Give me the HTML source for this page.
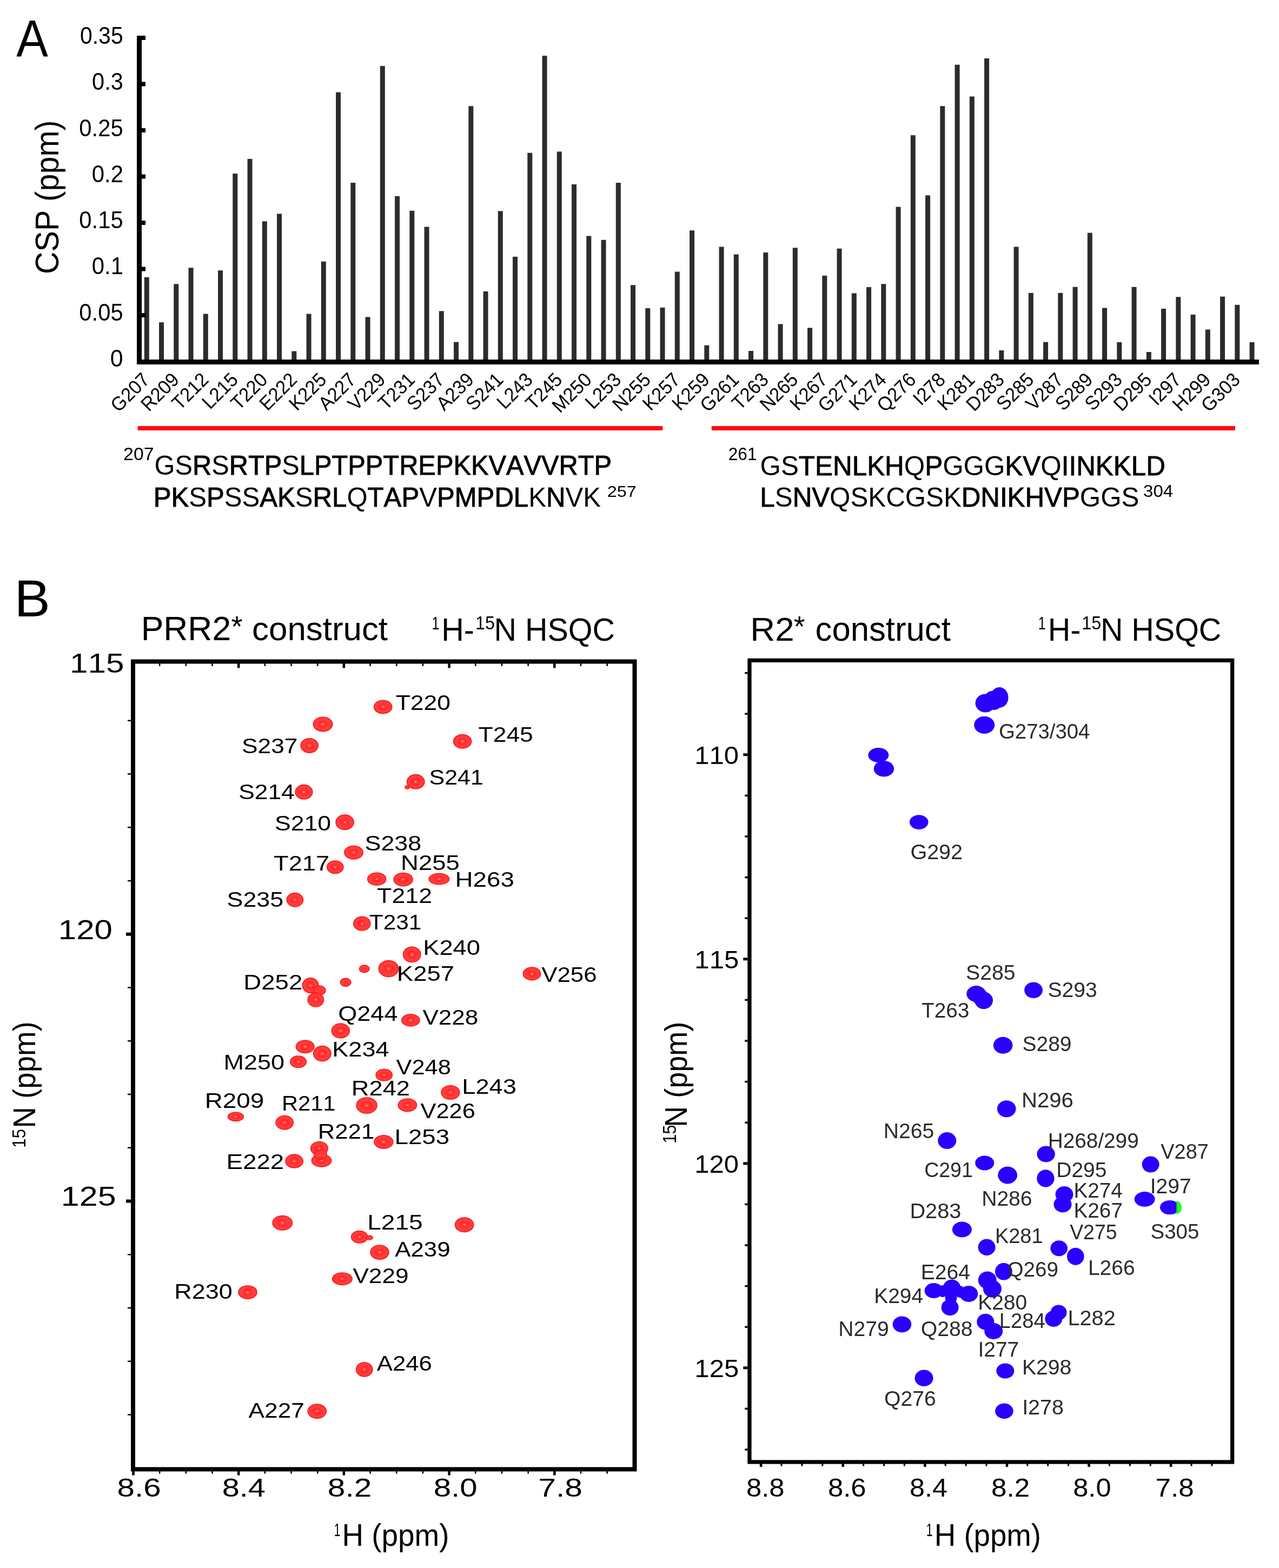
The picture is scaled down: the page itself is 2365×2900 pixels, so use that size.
<!DOCTYPE html>
<html><head><meta charset="utf-8"><title>Figure</title>
<style>
html,body{margin:0;padding:0;background:#fff;}
svg{display:block;}
svg text{font-family:"Liberation Sans",Arial,Helvetica,sans-serif;font-kerning:none;}
</style></head><body>
<svg width="2365" height="2900" viewBox="0 0 2365 2900">
<rect x="0" y="0" width="2365" height="2900" fill="#fff"/>
<text transform="translate(30.23,104.00) scale(0.9083,1)" font-size="96.80" fill="#000">A</text>
<rect x="266.80" y="512.70" width="9.00" height="153.30" fill="#2e2b2b"/>
<rect x="294.05" y="596.20" width="9.00" height="69.80" fill="#2e2b2b"/>
<rect x="321.30" y="525.20" width="9.00" height="140.80" fill="#2e2b2b"/>
<rect x="348.55" y="495.20" width="9.00" height="170.80" fill="#2e2b2b"/>
<rect x="375.80" y="580.50" width="9.00" height="85.50" fill="#2e2b2b"/>
<rect x="403.05" y="500.20" width="9.00" height="165.80" fill="#2e2b2b"/>
<rect x="430.30" y="321.10" width="9.00" height="344.90" fill="#2e2b2b"/>
<rect x="457.55" y="293.80" width="9.00" height="372.20" fill="#2e2b2b"/>
<rect x="484.80" y="409.30" width="9.00" height="256.70" fill="#2e2b2b"/>
<rect x="512.05" y="395.40" width="9.00" height="270.60" fill="#2e2b2b"/>
<rect x="539.30" y="649.50" width="9.00" height="16.50" fill="#2e2b2b"/>
<rect x="566.55" y="580.50" width="9.00" height="85.50" fill="#2e2b2b"/>
<rect x="593.80" y="483.60" width="9.00" height="182.40" fill="#2e2b2b"/>
<rect x="621.05" y="170.60" width="9.00" height="495.40" fill="#2e2b2b"/>
<rect x="648.30" y="338.00" width="9.00" height="328.00" fill="#2e2b2b"/>
<rect x="675.55" y="586.30" width="9.00" height="79.70" fill="#2e2b2b"/>
<rect x="702.80" y="122.00" width="9.00" height="544.00" fill="#2e2b2b"/>
<rect x="730.05" y="362.80" width="9.00" height="303.20" fill="#2e2b2b"/>
<rect x="757.30" y="389.80" width="9.00" height="276.20" fill="#2e2b2b"/>
<rect x="784.55" y="419.50" width="9.00" height="246.50" fill="#2e2b2b"/>
<rect x="811.80" y="575.30" width="9.00" height="90.70" fill="#2e2b2b"/>
<rect x="839.05" y="632.60" width="9.00" height="33.40" fill="#2e2b2b"/>
<rect x="866.30" y="196.20" width="9.00" height="469.80" fill="#2e2b2b"/>
<rect x="893.55" y="538.90" width="9.00" height="127.10" fill="#2e2b2b"/>
<rect x="920.80" y="390.40" width="9.00" height="275.60" fill="#2e2b2b"/>
<rect x="948.05" y="474.80" width="9.00" height="191.20" fill="#2e2b2b"/>
<rect x="975.30" y="282.70" width="9.00" height="383.30" fill="#2e2b2b"/>
<rect x="1002.55" y="103.10" width="9.00" height="562.90" fill="#2e2b2b"/>
<rect x="1029.80" y="280.40" width="9.00" height="385.60" fill="#2e2b2b"/>
<rect x="1057.05" y="340.90" width="9.00" height="325.10" fill="#2e2b2b"/>
<rect x="1084.30" y="436.40" width="9.00" height="229.60" fill="#2e2b2b"/>
<rect x="1111.55" y="443.70" width="9.00" height="222.30" fill="#2e2b2b"/>
<rect x="1138.80" y="338.00" width="9.00" height="328.00" fill="#2e2b2b"/>
<rect x="1166.05" y="527.20" width="9.00" height="138.80" fill="#2e2b2b"/>
<rect x="1193.30" y="570.00" width="9.00" height="96.00" fill="#2e2b2b"/>
<rect x="1220.55" y="568.90" width="9.00" height="97.10" fill="#2e2b2b"/>
<rect x="1247.80" y="502.50" width="9.00" height="163.50" fill="#2e2b2b"/>
<rect x="1275.05" y="426.20" width="9.00" height="239.80" fill="#2e2b2b"/>
<rect x="1302.30" y="638.70" width="9.00" height="27.30" fill="#2e2b2b"/>
<rect x="1329.55" y="456.50" width="9.00" height="209.50" fill="#2e2b2b"/>
<rect x="1356.80" y="470.50" width="9.00" height="195.50" fill="#2e2b2b"/>
<rect x="1384.05" y="649.00" width="9.00" height="17.00" fill="#2e2b2b"/>
<rect x="1411.30" y="467.00" width="9.00" height="199.00" fill="#2e2b2b"/>
<rect x="1438.55" y="599.40" width="9.00" height="66.60" fill="#2e2b2b"/>
<rect x="1465.80" y="458.30" width="9.00" height="207.70" fill="#2e2b2b"/>
<rect x="1493.05" y="606.40" width="9.00" height="59.60" fill="#2e2b2b"/>
<rect x="1520.30" y="509.80" width="9.00" height="156.20" fill="#2e2b2b"/>
<rect x="1547.55" y="459.70" width="9.00" height="206.30" fill="#2e2b2b"/>
<rect x="1574.80" y="542.40" width="9.00" height="123.60" fill="#2e2b2b"/>
<rect x="1602.05" y="531.00" width="9.00" height="135.00" fill="#2e2b2b"/>
<rect x="1629.30" y="525.20" width="9.00" height="140.80" fill="#2e2b2b"/>
<rect x="1656.55" y="382.60" width="9.00" height="283.40" fill="#2e2b2b"/>
<rect x="1683.80" y="250.10" width="9.00" height="415.90" fill="#2e2b2b"/>
<rect x="1711.05" y="361.30" width="9.00" height="304.70" fill="#2e2b2b"/>
<rect x="1738.30" y="196.20" width="9.00" height="469.80" fill="#2e2b2b"/>
<rect x="1765.55" y="119.70" width="9.00" height="546.30" fill="#2e2b2b"/>
<rect x="1792.80" y="178.50" width="9.00" height="487.50" fill="#2e2b2b"/>
<rect x="1820.05" y="108.00" width="9.00" height="558.00" fill="#2e2b2b"/>
<rect x="1847.30" y="648.00" width="9.00" height="18.00" fill="#2e2b2b"/>
<rect x="1874.55" y="456.50" width="9.00" height="209.50" fill="#2e2b2b"/>
<rect x="1901.80" y="541.80" width="9.00" height="124.20" fill="#2e2b2b"/>
<rect x="1929.05" y="632.60" width="9.00" height="33.40" fill="#2e2b2b"/>
<rect x="1956.30" y="541.80" width="9.00" height="124.20" fill="#2e2b2b"/>
<rect x="1983.55" y="530.70" width="9.00" height="135.30" fill="#2e2b2b"/>
<rect x="2010.80" y="430.60" width="9.00" height="235.40" fill="#2e2b2b"/>
<rect x="2038.05" y="569.50" width="9.00" height="96.50" fill="#2e2b2b"/>
<rect x="2065.30" y="632.90" width="9.00" height="33.10" fill="#2e2b2b"/>
<rect x="2092.55" y="530.70" width="9.00" height="135.30" fill="#2e2b2b"/>
<rect x="2119.80" y="651.00" width="9.00" height="15.00" fill="#2e2b2b"/>
<rect x="2147.05" y="570.90" width="9.00" height="95.10" fill="#2e2b2b"/>
<rect x="2174.30" y="549.20" width="9.00" height="116.80" fill="#2e2b2b"/>
<rect x="2201.55" y="581.80" width="9.00" height="84.20" fill="#2e2b2b"/>
<rect x="2228.80" y="609.50" width="9.00" height="56.50" fill="#2e2b2b"/>
<rect x="2256.05" y="548.60" width="9.00" height="117.40" fill="#2e2b2b"/>
<rect x="2283.30" y="563.80" width="9.00" height="102.20" fill="#2e2b2b"/>
<rect x="2310.55" y="632.90" width="9.00" height="33.10" fill="#2e2b2b"/>
<rect x="253.00" y="66.00" width="9.00" height="608.00" fill="#000"/>
<rect x="253.00" y="665.00" width="2075.00" height="9.00" fill="#000"/>
<rect x="253.00" y="66.00" width="16.00" height="8.00" fill="#000"/>
<rect x="253.00" y="151.50" width="16.00" height="8.00" fill="#000"/>
<rect x="253.00" y="237.00" width="16.00" height="8.00" fill="#000"/>
<rect x="253.00" y="322.50" width="16.00" height="8.00" fill="#000"/>
<rect x="253.00" y="408.00" width="16.00" height="8.00" fill="#000"/>
<rect x="253.00" y="493.50" width="16.00" height="8.00" fill="#000"/>
<rect x="253.00" y="579.00" width="16.00" height="8.00" fill="#000"/>
<text transform="translate(147.90,81.00) scale(0.9428,1)" font-size="43.50" fill="#000">0.35</text>
<text transform="translate(170.08,166.27) scale(0.9550,1)" font-size="43.50" fill="#000">0.3</text>
<text transform="translate(146.37,251.54) scale(0.9613,1)" font-size="43.50" fill="#000">0.25</text>
<text transform="translate(169.76,336.81) scale(0.9649,1)" font-size="43.50" fill="#000">0.2</text>
<text transform="translate(146.37,422.08) scale(0.9613,1)" font-size="43.50" fill="#000">0.15</text>
<text transform="translate(169.76,507.35) scale(0.9639,1)" font-size="43.50" fill="#000">0.1</text>
<text transform="translate(146.37,592.62) scale(0.9613,1)" font-size="43.50" fill="#000">0.05</text>
<text transform="translate(203.82,677.89) scale(0.9859,1)" font-size="43.50" fill="#000">0</text>
<text transform="translate(108.00,507.02) rotate(-90) scale(0.9441,1)" font-size="61.00" fill="#000">CSP (ppm)</text>
<text transform="translate(278.80,704.50) rotate(-45) scale(0.955,1)" font-size="36" text-anchor="end">G207</text>
<text transform="translate(333.30,704.50) rotate(-45) scale(0.955,1)" font-size="36" text-anchor="end">R209</text>
<text transform="translate(387.80,704.50) rotate(-45) scale(0.955,1)" font-size="36" text-anchor="end">T212</text>
<text transform="translate(442.30,704.50) rotate(-45) scale(0.955,1)" font-size="36" text-anchor="end">L215</text>
<text transform="translate(496.80,704.50) rotate(-45) scale(0.955,1)" font-size="36" text-anchor="end">T220</text>
<text transform="translate(551.30,704.50) rotate(-45) scale(0.955,1)" font-size="36" text-anchor="end">E222</text>
<text transform="translate(605.80,704.50) rotate(-45) scale(0.955,1)" font-size="36" text-anchor="end">K225</text>
<text transform="translate(660.30,704.50) rotate(-45) scale(0.955,1)" font-size="36" text-anchor="end">A227</text>
<text transform="translate(714.80,704.50) rotate(-45) scale(0.955,1)" font-size="36" text-anchor="end">V229</text>
<text transform="translate(769.30,704.50) rotate(-45) scale(0.955,1)" font-size="36" text-anchor="end">T231</text>
<text transform="translate(823.80,704.50) rotate(-45) scale(0.955,1)" font-size="36" text-anchor="end">S237</text>
<text transform="translate(878.30,704.50) rotate(-45) scale(0.955,1)" font-size="36" text-anchor="end">A239</text>
<text transform="translate(932.80,704.50) rotate(-45) scale(0.955,1)" font-size="36" text-anchor="end">S241</text>
<text transform="translate(987.30,704.50) rotate(-45) scale(0.955,1)" font-size="36" text-anchor="end">L243</text>
<text transform="translate(1041.80,704.50) rotate(-45) scale(0.955,1)" font-size="36" text-anchor="end">T245</text>
<text transform="translate(1096.30,704.50) rotate(-45) scale(0.955,1)" font-size="36" text-anchor="end">M250</text>
<text transform="translate(1150.80,704.50) rotate(-45) scale(0.955,1)" font-size="36" text-anchor="end">L253</text>
<text transform="translate(1205.30,704.50) rotate(-45) scale(0.955,1)" font-size="36" text-anchor="end">N255</text>
<text transform="translate(1259.80,704.50) rotate(-45) scale(0.955,1)" font-size="36" text-anchor="end">K257</text>
<text transform="translate(1314.30,704.50) rotate(-45) scale(0.955,1)" font-size="36" text-anchor="end">K259</text>
<text transform="translate(1368.80,704.50) rotate(-45) scale(0.955,1)" font-size="36" text-anchor="end">G261</text>
<text transform="translate(1423.30,704.50) rotate(-45) scale(0.955,1)" font-size="36" text-anchor="end">T263</text>
<text transform="translate(1477.80,704.50) rotate(-45) scale(0.955,1)" font-size="36" text-anchor="end">N265</text>
<text transform="translate(1532.30,704.50) rotate(-45) scale(0.955,1)" font-size="36" text-anchor="end">K267</text>
<text transform="translate(1586.80,704.50) rotate(-45) scale(0.955,1)" font-size="36" text-anchor="end">G271</text>
<text transform="translate(1641.30,704.50) rotate(-45) scale(0.955,1)" font-size="36" text-anchor="end">K274</text>
<text transform="translate(1695.80,704.50) rotate(-45) scale(0.955,1)" font-size="36" text-anchor="end">Q276</text>
<text transform="translate(1750.30,704.50) rotate(-45) scale(0.955,1)" font-size="36" text-anchor="end">I278</text>
<text transform="translate(1804.80,704.50) rotate(-45) scale(0.955,1)" font-size="36" text-anchor="end">K281</text>
<text transform="translate(1859.30,704.50) rotate(-45) scale(0.955,1)" font-size="36" text-anchor="end">D283</text>
<text transform="translate(1913.80,704.50) rotate(-45) scale(0.955,1)" font-size="36" text-anchor="end">S285</text>
<text transform="translate(1968.30,704.50) rotate(-45) scale(0.955,1)" font-size="36" text-anchor="end">V287</text>
<text transform="translate(2022.80,704.50) rotate(-45) scale(0.955,1)" font-size="36" text-anchor="end">S289</text>
<text transform="translate(2077.30,704.50) rotate(-45) scale(0.955,1)" font-size="36" text-anchor="end">S293</text>
<text transform="translate(2131.80,704.50) rotate(-45) scale(0.955,1)" font-size="36" text-anchor="end">D295</text>
<text transform="translate(2186.30,704.50) rotate(-45) scale(0.955,1)" font-size="36" text-anchor="end">I297</text>
<text transform="translate(2240.80,704.50) rotate(-45) scale(0.955,1)" font-size="36" text-anchor="end">H299</text>
<text transform="translate(2295.30,704.50) rotate(-45) scale(0.955,1)" font-size="36" text-anchor="end">G303</text>
<rect x="254.60" y="788.00" width="970.80" height="8.00" fill="#ff0a0a"/>
<rect x="1315.80" y="788.00" width="968.20" height="8.00" fill="#ff0a0a"/>
<text transform="translate(228.10,850.60) scale(1.0001,1)" font-size="33.80" fill="#000">207</text>
<text transform="translate(285.55,878.30) scale(0.9755,1)" font-size="50.00">GS<tspan stroke="#000" stroke-width="0.9">R</tspan>S<tspan stroke="#000" stroke-width="0.9">R</tspan><tspan stroke="#000" stroke-width="0.9">T</tspan><tspan stroke="#000" stroke-width="0.9">P</tspan>S<tspan stroke="#000" stroke-width="0.9">L</tspan><tspan stroke="#000" stroke-width="0.9">P</tspan><tspan stroke="#000" stroke-width="0.9">T</tspan><tspan stroke="#000" stroke-width="0.9">P</tspan><tspan stroke="#000" stroke-width="0.9">P</tspan><tspan stroke="#000" stroke-width="0.9">T</tspan><tspan stroke="#000" stroke-width="0.9">R</tspan><tspan stroke="#000" stroke-width="0.9">E</tspan><tspan stroke="#000" stroke-width="0.9">P</tspan><tspan stroke="#000" stroke-width="0.9">K</tspan><tspan stroke="#000" stroke-width="0.9">K</tspan><tspan stroke="#000" stroke-width="0.9">V</tspan><tspan stroke="#000" stroke-width="0.9">A</tspan><tspan stroke="#000" stroke-width="0.9">V</tspan><tspan stroke="#000" stroke-width="0.9">V</tspan><tspan stroke="#000" stroke-width="0.9">R</tspan><tspan stroke="#000" stroke-width="0.9">T</tspan><tspan stroke="#000" stroke-width="0.9">P</tspan></text>
<text transform="translate(283.67,936.50) scale(0.9827,1)" font-size="50.00"><tspan stroke="#000" stroke-width="0.9">P</tspan><tspan stroke="#000" stroke-width="0.9">K</tspan>S<tspan stroke="#000" stroke-width="0.9">P</tspan>SS<tspan stroke="#000" stroke-width="0.9">A</tspan><tspan stroke="#000" stroke-width="0.9">K</tspan>S<tspan stroke="#000" stroke-width="0.9">R</tspan><tspan stroke="#000" stroke-width="0.9">L</tspan>Q<tspan stroke="#000" stroke-width="0.9">T</tspan><tspan stroke="#000" stroke-width="0.9">A</tspan><tspan stroke="#000" stroke-width="0.9">P</tspan>V<tspan stroke="#000" stroke-width="0.9">P</tspan><tspan stroke="#000" stroke-width="0.9">M</tspan><tspan stroke="#000" stroke-width="0.9">P</tspan><tspan stroke="#000" stroke-width="0.9">D</tspan><tspan stroke="#000" stroke-width="0.9">L</tspan>K<tspan stroke="#000" stroke-width="0.9">N</tspan>VK</text>
<text transform="translate(1122.77,918.50) scale(1.0800,1)" font-size="30.00" fill="#000">257</text>
<text transform="translate(1346.81,850.60) scale(0.9444,1)" font-size="33.40" fill="#000">261</text>
<text transform="translate(1405.52,878.90) scale(0.9878,1)" font-size="50.00">GS<tspan stroke="#000" stroke-width="0.9">T</tspan><tspan stroke="#000" stroke-width="0.9">E</tspan><tspan stroke="#000" stroke-width="0.9">N</tspan><tspan stroke="#000" stroke-width="0.9">L</tspan><tspan stroke="#000" stroke-width="0.9">K</tspan><tspan stroke="#000" stroke-width="0.9">H</tspan>Q<tspan stroke="#000" stroke-width="0.9">P</tspan>GGG<tspan stroke="#000" stroke-width="0.9">K</tspan><tspan stroke="#000" stroke-width="0.9">V</tspan>Q<tspan stroke="#000" stroke-width="0.9">I</tspan><tspan stroke="#000" stroke-width="0.9">I</tspan><tspan stroke="#000" stroke-width="0.9">N</tspan><tspan stroke="#000" stroke-width="0.9">K</tspan><tspan stroke="#000" stroke-width="0.9">K</tspan><tspan stroke="#000" stroke-width="0.9">L</tspan><tspan stroke="#000" stroke-width="0.9">D</tspan></text>
<text transform="translate(1405.36,937.00) scale(0.9857,1)" font-size="50.00"><tspan stroke="#000" stroke-width="0.9">L</tspan>S<tspan stroke="#000" stroke-width="0.9">N</tspan><tspan stroke="#000" stroke-width="0.9">V</tspan>QSKCGSK<tspan stroke="#000" stroke-width="0.9">D</tspan><tspan stroke="#000" stroke-width="0.9">N</tspan><tspan stroke="#000" stroke-width="0.9">I</tspan><tspan stroke="#000" stroke-width="0.9">K</tspan><tspan stroke="#000" stroke-width="0.9">H</tspan><tspan stroke="#000" stroke-width="0.9">V</tspan><tspan stroke="#000" stroke-width="0.9">P</tspan>GGS</text>
<text transform="translate(2114.04,918.70) scale(1.0658,1)" font-size="31.00" fill="#000">304</text>
<text transform="translate(26.43,1139.50) scale(1.0266,1)" font-size="97.00" fill="#000">B</text>
<text transform="translate(260.68,1183.90) scale(1.0065,1)" font-size="62.00" fill="#000">PRR2</text>
<text transform="translate(427.53,1176.50) scale(1.0000,1)" font-size="54.00" fill="#000">*</text>
<text transform="translate(466.07,1183.90) scale(0.9978,1)" font-size="62.00" fill="#000">construct</text>
<text transform="translate(1387.27,1184.80) scale(1.0274,1)" font-size="62.00" fill="#000">R2</text>
<text transform="translate(1467.84,1176.50) scale(0.9844,1)" font-size="54.00" fill="#000">*</text>
<text transform="translate(1507.58,1184.80) scale(0.9950,1)" font-size="62.00" fill="#000">construct</text>
<text transform="translate(798.39,1163.80) scale(0.7591,1)" font-size="33.00" fill="#000">1</text>
<text transform="translate(816.27,1184.50) scale(0.9830,1)" font-size="58.60" fill="#000">H-</text>
<text transform="translate(878.93,1163.80) scale(0.9254,1)" font-size="35.00" fill="#000">15</text>
<text transform="translate(913.49,1184.50) scale(0.9807,1)" font-size="58.60" fill="#000">N HSQC</text>
<text transform="translate(1919.79,1164.10) scale(0.7591,1)" font-size="33.00" fill="#000">1</text>
<text transform="translate(1937.67,1184.80) scale(0.9830,1)" font-size="58.60" fill="#000">H-</text>
<text transform="translate(2000.33,1164.10) scale(0.9254,1)" font-size="35.00" fill="#000">15</text>
<text transform="translate(2034.89,1184.80) scale(0.9807,1)" font-size="58.60" fill="#000">N HSQC</text>
<rect x="246.00" y="1223.50" width="927.50" height="1493.90" fill="none" stroke="#000" stroke-width="8.00"/>
<rect x="244.25" y="2721.00" width="4.50" height="7.50" fill="#000"/>
<rect x="244.25" y="1227.00" width="4.50" height="8.50" fill="#000"/>
<rect x="293.93" y="2721.00" width="2.50" height="4.50" fill="#000"/>
<rect x="293.93" y="1227.00" width="2.50" height="5.00" fill="#000"/>
<rect x="342.60" y="2721.00" width="2.50" height="4.50" fill="#000"/>
<rect x="342.60" y="1227.00" width="2.50" height="5.00" fill="#000"/>
<rect x="391.27" y="2721.00" width="2.50" height="4.50" fill="#000"/>
<rect x="391.27" y="1227.00" width="2.50" height="5.00" fill="#000"/>
<rect x="438.95" y="2721.00" width="4.50" height="7.50" fill="#000"/>
<rect x="438.95" y="1227.00" width="4.50" height="8.50" fill="#000"/>
<rect x="488.62" y="2721.00" width="2.50" height="4.50" fill="#000"/>
<rect x="488.62" y="1227.00" width="2.50" height="5.00" fill="#000"/>
<rect x="537.30" y="2721.00" width="2.50" height="4.50" fill="#000"/>
<rect x="537.30" y="1227.00" width="2.50" height="5.00" fill="#000"/>
<rect x="585.97" y="2721.00" width="2.50" height="4.50" fill="#000"/>
<rect x="585.97" y="1227.00" width="2.50" height="5.00" fill="#000"/>
<rect x="633.65" y="2721.00" width="4.50" height="7.50" fill="#000"/>
<rect x="633.65" y="1227.00" width="4.50" height="8.50" fill="#000"/>
<rect x="683.33" y="2721.00" width="2.50" height="4.50" fill="#000"/>
<rect x="683.33" y="1227.00" width="2.50" height="5.00" fill="#000"/>
<rect x="732.00" y="2721.00" width="2.50" height="4.50" fill="#000"/>
<rect x="732.00" y="1227.00" width="2.50" height="5.00" fill="#000"/>
<rect x="780.67" y="2721.00" width="2.50" height="4.50" fill="#000"/>
<rect x="780.67" y="1227.00" width="2.50" height="5.00" fill="#000"/>
<rect x="828.35" y="2721.00" width="4.50" height="7.50" fill="#000"/>
<rect x="828.35" y="1227.00" width="4.50" height="8.50" fill="#000"/>
<rect x="878.02" y="2721.00" width="2.50" height="4.50" fill="#000"/>
<rect x="878.02" y="1227.00" width="2.50" height="5.00" fill="#000"/>
<rect x="926.70" y="2721.00" width="2.50" height="4.50" fill="#000"/>
<rect x="926.70" y="1227.00" width="2.50" height="5.00" fill="#000"/>
<rect x="975.38" y="2721.00" width="2.50" height="4.50" fill="#000"/>
<rect x="975.38" y="1227.00" width="2.50" height="5.00" fill="#000"/>
<rect x="1023.05" y="2721.00" width="4.50" height="7.50" fill="#000"/>
<rect x="1023.05" y="1227.00" width="4.50" height="8.50" fill="#000"/>
<rect x="1072.72" y="2721.00" width="2.50" height="4.50" fill="#000"/>
<rect x="1072.72" y="1227.00" width="2.50" height="5.00" fill="#000"/>
<rect x="1121.40" y="2721.00" width="2.50" height="4.50" fill="#000"/>
<rect x="1121.40" y="1227.00" width="2.50" height="5.00" fill="#000"/>
<rect x="236.00" y="1331.50" width="6.00" height="2.50" fill="#000"/>
<rect x="236.00" y="1430.25" width="6.00" height="2.50" fill="#000"/>
<rect x="236.00" y="1529.00" width="6.00" height="2.50" fill="#000"/>
<rect x="236.00" y="1627.75" width="6.00" height="2.50" fill="#000"/>
<rect x="233.00" y="1724.75" width="9.00" height="6.00" fill="#000"/>
<rect x="236.00" y="1825.25" width="6.00" height="2.50" fill="#000"/>
<rect x="236.00" y="1924.00" width="6.00" height="2.50" fill="#000"/>
<rect x="236.00" y="2022.75" width="6.00" height="2.50" fill="#000"/>
<rect x="236.00" y="2121.50" width="6.00" height="2.50" fill="#000"/>
<rect x="233.00" y="2218.50" width="9.00" height="6.00" fill="#000"/>
<rect x="236.00" y="2319.00" width="6.00" height="2.50" fill="#000"/>
<rect x="236.00" y="2417.75" width="6.00" height="2.50" fill="#000"/>
<rect x="236.00" y="2516.50" width="6.00" height="2.50" fill="#000"/>
<rect x="236.00" y="2615.25" width="6.00" height="2.50" fill="#000"/>
<text transform="translate(129.01,1244.30) scale(1.2049,1)" font-size="50.00" fill="#000">115</text>
<text transform="translate(107.83,1736.50) scale(1.1988,1)" font-size="50.00" fill="#000">120</text>
<text transform="translate(112.85,2229.80) scale(1.2204,1)" font-size="50.00" fill="#000">125</text>
<text transform="translate(216.56,2767.50) scale(1.2298,1)" font-size="47.50" fill="#000">8.6</text>
<text transform="translate(410.69,2767.50) scale(1.2161,1)" font-size="47.50" fill="#000">8.4</text>
<text transform="translate(605.80,2767.50) scale(1.2358,1)" font-size="47.50" fill="#000">8.2</text>
<text transform="translate(801.72,2767.50) scale(1.2252,1)" font-size="47.50" fill="#000">8.0</text>
<text transform="translate(995.34,2767.50) scale(1.2368,1)" font-size="47.50" fill="#000">7.8</text>
<text transform="translate(617.79,2841.00) scale(0.6455,1)" font-size="32.70" fill="#000">1</text>
<text transform="translate(632.50,2859.10) scale(0.9619,1)" font-size="57.00" fill="#000">H (ppm)</text>
<text transform="translate(47.20,2123.01) rotate(-90) scale(0.9265,1)" font-size="34.20" fill="#000">15</text>
<text transform="translate(64.60,2086.58) rotate(-90) scale(0.9423,1)" font-size="58.00" fill="#000">N (ppm)</text>
<rect x="1385.95" y="1221.35" width="892.70" height="1482.60" fill="none" stroke="#000" stroke-width="7.30"/>
<rect x="1404.85" y="2707.00" width="4.50" height="6.00" fill="#000"/>
<rect x="1443.50" y="2707.00" width="3.00" height="4.50" fill="#000"/>
<rect x="1481.40" y="2707.00" width="3.00" height="4.50" fill="#000"/>
<rect x="1519.30" y="2707.00" width="3.00" height="4.50" fill="#000"/>
<rect x="1556.45" y="2707.00" width="4.50" height="6.00" fill="#000"/>
<rect x="1595.10" y="2707.00" width="3.00" height="4.50" fill="#000"/>
<rect x="1633.00" y="2707.00" width="3.00" height="4.50" fill="#000"/>
<rect x="1670.90" y="2707.00" width="3.00" height="4.50" fill="#000"/>
<rect x="1708.05" y="2707.00" width="4.50" height="6.00" fill="#000"/>
<rect x="1746.70" y="2707.00" width="3.00" height="4.50" fill="#000"/>
<rect x="1784.60" y="2707.00" width="3.00" height="4.50" fill="#000"/>
<rect x="1822.50" y="2707.00" width="3.00" height="4.50" fill="#000"/>
<rect x="1859.65" y="2707.00" width="4.50" height="6.00" fill="#000"/>
<rect x="1898.30" y="2707.00" width="3.00" height="4.50" fill="#000"/>
<rect x="1936.20" y="2707.00" width="3.00" height="4.50" fill="#000"/>
<rect x="1974.10" y="2707.00" width="3.00" height="4.50" fill="#000"/>
<rect x="2011.25" y="2707.00" width="4.50" height="6.00" fill="#000"/>
<rect x="2049.90" y="2707.00" width="3.00" height="4.50" fill="#000"/>
<rect x="2087.80" y="2707.00" width="3.00" height="4.50" fill="#000"/>
<rect x="2125.70" y="2707.00" width="3.00" height="4.50" fill="#000"/>
<rect x="2162.85" y="2707.00" width="4.50" height="6.00" fill="#000"/>
<rect x="2201.50" y="2707.00" width="3.00" height="4.50" fill="#000"/>
<rect x="2239.40" y="2707.00" width="3.00" height="4.50" fill="#000"/>
<rect x="1377.30" y="1242.85" width="5.00" height="3.50" fill="#000"/>
<rect x="1377.30" y="1318.45" width="5.00" height="3.50" fill="#000"/>
<rect x="1374.30" y="1393.30" width="8.00" height="5.00" fill="#000"/>
<rect x="1377.30" y="1469.65" width="5.00" height="3.50" fill="#000"/>
<rect x="1377.30" y="1545.25" width="5.00" height="3.50" fill="#000"/>
<rect x="1377.30" y="1620.85" width="5.00" height="3.50" fill="#000"/>
<rect x="1377.30" y="1696.45" width="5.00" height="3.50" fill="#000"/>
<rect x="1374.30" y="1771.30" width="8.00" height="5.00" fill="#000"/>
<rect x="1377.30" y="1847.65" width="5.00" height="3.50" fill="#000"/>
<rect x="1377.30" y="1923.25" width="5.00" height="3.50" fill="#000"/>
<rect x="1377.30" y="1998.85" width="5.00" height="3.50" fill="#000"/>
<rect x="1377.30" y="2074.45" width="5.00" height="3.50" fill="#000"/>
<rect x="1374.30" y="2149.30" width="8.00" height="5.00" fill="#000"/>
<rect x="1377.30" y="2225.65" width="5.00" height="3.50" fill="#000"/>
<rect x="1377.30" y="2301.25" width="5.00" height="3.50" fill="#000"/>
<rect x="1377.30" y="2376.85" width="5.00" height="3.50" fill="#000"/>
<rect x="1377.30" y="2452.45" width="5.00" height="3.50" fill="#000"/>
<rect x="1374.30" y="2527.30" width="8.00" height="5.00" fill="#000"/>
<rect x="1377.30" y="2603.65" width="5.00" height="3.50" fill="#000"/>
<rect x="1377.30" y="2679.25" width="5.00" height="3.50" fill="#000"/>
<text transform="translate(1284.37,1412.50) scale(1.0424,1)" font-size="47.00" fill="#000">110</text>
<text transform="translate(1284.36,1790.50) scale(1.0444,1)" font-size="47.00" fill="#000">115</text>
<text transform="translate(1284.37,2168.50) scale(1.0424,1)" font-size="47.00" fill="#000">120</text>
<text transform="translate(1284.36,2546.50) scale(1.0444,1)" font-size="47.00" fill="#000">125</text>
<text transform="translate(1379.89,2767.50) scale(1.0694,1)" font-size="47.50" fill="#000">8.8</text>
<text transform="translate(1530.99,2767.50) scale(1.0698,1)" font-size="47.50" fill="#000">8.6</text>
<text transform="translate(1682.12,2767.50) scale(1.0579,1)" font-size="47.50" fill="#000">8.4</text>
<text transform="translate(1833.08,2767.50) scale(1.0751,1)" font-size="47.50" fill="#000">8.2</text>
<text transform="translate(1984.20,2767.50) scale(1.0658,1)" font-size="47.50" fill="#000">8.0</text>
<text transform="translate(2136.58,2767.50) scale(1.0759,1)" font-size="47.50" fill="#000">7.8</text>
<text transform="translate(1712.77,2840.90) scale(0.6525,1)" font-size="32.70" fill="#000">1</text>
<text transform="translate(1727.82,2858.50) scale(0.9583,1)" font-size="57.00" fill="#000">H (ppm)</text>
<text transform="translate(1249.70,2114.64) rotate(-90) scale(0.8893,1)" font-size="34.50" fill="#000">15</text>
<text transform="translate(1269.50,2084.73) rotate(-90) scale(0.9309,1)" font-size="58.00" fill="#000">N (ppm)</text>
<g fill="#ff3b3b" stroke="#ff1414" stroke-width="1.5">
<ellipse cx="708.2" cy="1307.5" rx="16.6" ry="12.2"/>
<ellipse cx="597.0" cy="1339.5" rx="17.7" ry="13.2"/>
<ellipse cx="572.2" cy="1379.0" rx="16.1" ry="13.2"/>
<ellipse cx="855.1" cy="1371.2" rx="16.6" ry="12.8"/>
<ellipse cx="768.7" cy="1445.8" rx="16.2" ry="13.2"/>
<ellipse cx="561.9" cy="1464.8" rx="15.8" ry="13.2"/>
<ellipse cx="637.6" cy="1520.7" rx="16.6" ry="13.7"/>
<ellipse cx="654.0" cy="1576.7" rx="17.2" ry="12.2"/>
<ellipse cx="619.8" cy="1603.8" rx="15.1" ry="11.8"/>
<ellipse cx="696.7" cy="1625.7" rx="17.1" ry="11.5"/>
<ellipse cx="745.6" cy="1626.6" rx="17.6" ry="12.2"/>
<ellipse cx="811.9" cy="1625.7" rx="18.8" ry="10.1"/>
<ellipse cx="545.4" cy="1664.3" rx="15.1" ry="12.7"/>
<ellipse cx="669.3" cy="1708.1" rx="15.6" ry="12.9"/>
<ellipse cx="761.7" cy="1765.4" rx="16.2" ry="14.2"/>
<ellipse cx="673.6" cy="1791.9" rx="9.2" ry="6.8"/>
<ellipse cx="718.5" cy="1791.6" rx="18.2" ry="15.1"/>
<ellipse cx="639.1" cy="1816.9" rx="9.8" ry="7.6"/>
<ellipse cx="574.2" cy="1822.6" rx="14.8" ry="13.8"/>
<ellipse cx="590.7" cy="1831.8" rx="11.2" ry="8.8"/>
<ellipse cx="583.8" cy="1849.1" rx="14.8" ry="12.8"/>
<ellipse cx="983.5" cy="1800.9" rx="16.2" ry="11.8"/>
<ellipse cx="629.8" cy="1906.4" rx="16.6" ry="13.3"/>
<ellipse cx="759.4" cy="1886.9" rx="16.6" ry="11.1"/>
<ellipse cx="564.2" cy="1935.8" rx="16.8" ry="11.8"/>
<ellipse cx="595.9" cy="1948.5" rx="16.2" ry="14.1"/>
<ellipse cx="551.5" cy="1963.8" rx="14.8" ry="10.8"/>
<ellipse cx="710.2" cy="1988.2" rx="15.1" ry="10.8"/>
<ellipse cx="832.9" cy="2020.5" rx="16.9" ry="12.8"/>
<ellipse cx="678.0" cy="2044.6" rx="19.0" ry="14.7"/>
<ellipse cx="753.4" cy="2043.8" rx="17.2" ry="11.9"/>
<ellipse cx="435.9" cy="2065.3" rx="14.5" ry="8.2"/>
<ellipse cx="526.2" cy="2076.2" rx="16.2" ry="12.7"/>
<ellipse cx="590.4" cy="2124.0" rx="15.8" ry="12.5"/>
<ellipse cx="594.5" cy="2146.4" rx="18.2" ry="11.5"/>
<ellipse cx="592.5" cy="2135.0" rx="11.7" ry="9.2"/>
<ellipse cx="544.1" cy="2147.6" rx="16.2" ry="12.5"/>
<ellipse cx="709.4" cy="2112.0" rx="17.4" ry="12.2"/>
<ellipse cx="522.3" cy="2261.8" rx="18.2" ry="13.2"/>
<ellipse cx="858.6" cy="2265.3" rx="17.1" ry="13.4"/>
<ellipse cx="664.7" cy="2287.7" rx="15.2" ry="11.2"/>
<ellipse cx="702.0" cy="2316.1" rx="17.1" ry="13.1"/>
<ellipse cx="632.9" cy="2365.2" rx="18.2" ry="11.3"/>
<ellipse cx="458.0" cy="2390.1" rx="17.1" ry="12.2"/>
<ellipse cx="673.7" cy="2532.8" rx="15.2" ry="13.1"/>
<ellipse cx="586.3" cy="2610.1" rx="17.1" ry="13.1"/>
<ellipse cx="683.0" cy="2289.0" rx="6.2" ry="3.8"/>
<ellipse cx="753.0" cy="1456.0" rx="4.2" ry="3.2"/>
</g>
<g fill="none" stroke="#ff1c1c" stroke-width="1.3">
<ellipse cx="708.2" cy="1307.5" rx="6.9" ry="5.2"/>
<ellipse cx="597.0" cy="1339.5" rx="7.4" ry="5.6"/>
<ellipse cx="572.2" cy="1379.0" rx="6.7" ry="5.6"/>
<ellipse cx="855.1" cy="1371.2" rx="6.9" ry="5.4"/>
<ellipse cx="768.7" cy="1445.8" rx="6.8" ry="5.6"/>
<ellipse cx="561.9" cy="1464.8" rx="6.6" ry="5.6"/>
<ellipse cx="637.6" cy="1520.7" rx="6.9" ry="5.8"/>
<ellipse cx="654.0" cy="1576.7" rx="7.2" ry="5.2"/>
<ellipse cx="619.8" cy="1603.8" rx="6.3" ry="5.0"/>
<ellipse cx="696.7" cy="1625.7" rx="7.1" ry="4.9"/>
<ellipse cx="745.6" cy="1626.6" rx="7.3" ry="5.2"/>
<ellipse cx="811.9" cy="1625.7" rx="7.8" ry="4.3"/>
<ellipse cx="545.4" cy="1664.3" rx="6.3" ry="5.4"/>
<ellipse cx="669.3" cy="1708.1" rx="6.6" ry="5.5"/>
<ellipse cx="761.7" cy="1765.4" rx="6.8" ry="6.0"/>
<ellipse cx="718.5" cy="1791.6" rx="7.6" ry="6.3"/>
<ellipse cx="574.2" cy="1822.6" rx="6.2" ry="5.8"/>
<ellipse cx="583.8" cy="1849.1" rx="6.2" ry="5.4"/>
<ellipse cx="983.5" cy="1800.9" rx="6.8" ry="5.0"/>
<ellipse cx="629.8" cy="1906.4" rx="6.9" ry="5.6"/>
<ellipse cx="759.4" cy="1886.9" rx="6.9" ry="4.7"/>
<ellipse cx="564.2" cy="1935.8" rx="7.0" ry="5.0"/>
<ellipse cx="595.9" cy="1948.5" rx="6.8" ry="5.9"/>
<ellipse cx="551.5" cy="1963.8" rx="6.2" ry="4.6"/>
<ellipse cx="710.2" cy="1988.2" rx="6.3" ry="4.6"/>
<ellipse cx="832.9" cy="2020.5" rx="7.1" ry="5.4"/>
<ellipse cx="678.0" cy="2044.6" rx="7.9" ry="6.2"/>
<ellipse cx="753.4" cy="2043.8" rx="7.2" ry="5.1"/>
<ellipse cx="435.9" cy="2065.3" rx="6.1" ry="3.6"/>
<ellipse cx="526.2" cy="2076.2" rx="6.8" ry="5.4"/>
<ellipse cx="590.4" cy="2124.0" rx="6.6" ry="5.3"/>
<ellipse cx="594.5" cy="2146.4" rx="7.6" ry="4.9"/>
<ellipse cx="544.1" cy="2147.6" rx="6.8" ry="5.3"/>
<ellipse cx="709.4" cy="2112.0" rx="7.3" ry="5.2"/>
<ellipse cx="522.3" cy="2261.8" rx="7.6" ry="5.6"/>
<ellipse cx="858.6" cy="2265.3" rx="7.1" ry="5.7"/>
<ellipse cx="664.7" cy="2287.7" rx="6.4" ry="4.8"/>
<ellipse cx="702.0" cy="2316.1" rx="7.1" ry="5.5"/>
<ellipse cx="632.9" cy="2365.2" rx="7.6" ry="4.8"/>
<ellipse cx="458.0" cy="2390.1" rx="7.1" ry="5.2"/>
<ellipse cx="673.7" cy="2532.8" rx="6.4" ry="5.5"/>
<ellipse cx="586.3" cy="2610.1" rx="7.2" ry="5.5"/>
</g>
<g fill="#ffb8b8">
<ellipse cx="708.2" cy="1307.5" rx="1.6" ry="1"/>
<ellipse cx="597.0" cy="1339.5" rx="1.6" ry="1"/>
<ellipse cx="572.2" cy="1379.0" rx="1.6" ry="1"/>
<ellipse cx="855.1" cy="1371.2" rx="1.6" ry="1"/>
<ellipse cx="768.7" cy="1445.8" rx="1.6" ry="1"/>
<ellipse cx="561.9" cy="1464.8" rx="1.6" ry="1"/>
<ellipse cx="637.6" cy="1520.7" rx="1.6" ry="1"/>
<ellipse cx="654.0" cy="1576.7" rx="1.6" ry="1"/>
<ellipse cx="619.8" cy="1603.8" rx="1.6" ry="1"/>
<ellipse cx="696.7" cy="1625.7" rx="1.6" ry="1"/>
<ellipse cx="745.6" cy="1626.6" rx="1.6" ry="1"/>
<ellipse cx="811.9" cy="1625.7" rx="1.6" ry="1"/>
<ellipse cx="545.4" cy="1664.3" rx="1.6" ry="1"/>
<ellipse cx="669.3" cy="1708.1" rx="1.6" ry="1"/>
<ellipse cx="761.7" cy="1765.4" rx="1.6" ry="1"/>
<ellipse cx="718.5" cy="1791.6" rx="1.6" ry="1"/>
<ellipse cx="574.2" cy="1822.6" rx="1.6" ry="1"/>
<ellipse cx="583.8" cy="1849.1" rx="1.6" ry="1"/>
<ellipse cx="983.5" cy="1800.9" rx="1.6" ry="1"/>
<ellipse cx="629.8" cy="1906.4" rx="1.6" ry="1"/>
<ellipse cx="759.4" cy="1886.9" rx="1.6" ry="1"/>
<ellipse cx="564.2" cy="1935.8" rx="1.6" ry="1"/>
<ellipse cx="595.9" cy="1948.5" rx="1.6" ry="1"/>
<ellipse cx="551.5" cy="1963.8" rx="1.6" ry="1"/>
<ellipse cx="710.2" cy="1988.2" rx="1.6" ry="1"/>
<ellipse cx="832.9" cy="2020.5" rx="1.6" ry="1"/>
<ellipse cx="678.0" cy="2044.6" rx="1.6" ry="1"/>
<ellipse cx="753.4" cy="2043.8" rx="1.6" ry="1"/>
<ellipse cx="435.9" cy="2065.3" rx="1.6" ry="1"/>
<ellipse cx="526.2" cy="2076.2" rx="1.6" ry="1"/>
<ellipse cx="590.4" cy="2124.0" rx="1.6" ry="1"/>
<ellipse cx="594.5" cy="2146.4" rx="1.6" ry="1"/>
<ellipse cx="544.1" cy="2147.6" rx="1.6" ry="1"/>
<ellipse cx="709.4" cy="2112.0" rx="1.6" ry="1"/>
<ellipse cx="522.3" cy="2261.8" rx="1.6" ry="1"/>
<ellipse cx="858.6" cy="2265.3" rx="1.6" ry="1"/>
<ellipse cx="664.7" cy="2287.7" rx="1.6" ry="1"/>
<ellipse cx="702.0" cy="2316.1" rx="1.6" ry="1"/>
<ellipse cx="632.9" cy="2365.2" rx="1.6" ry="1"/>
<ellipse cx="458.0" cy="2390.1" rx="1.6" ry="1"/>
<ellipse cx="673.7" cy="2532.8" rx="1.6" ry="1"/>
<ellipse cx="586.3" cy="2610.1" rx="1.6" ry="1"/>
</g>
<g fill="#2a00ff">
<ellipse cx="1822.0" cy="1300.5" rx="18.5" ry="17.0"/>
<ellipse cx="1835.0" cy="1293.0" rx="15.0" ry="15.0"/>
<ellipse cx="1848.0" cy="1290.0" rx="16.5" ry="19.0"/>
<ellipse cx="1838.0" cy="1300.0" rx="14.0" ry="13.0"/>
<ellipse cx="1820.2" cy="1340.9" rx="19.0" ry="16.2"/>
<ellipse cx="1624.3" cy="1396.5" rx="19.0" ry="13.5"/>
<ellipse cx="1634.4" cy="1421.8" rx="18.7" ry="14.8"/>
<ellipse cx="1699.2" cy="1520.6" rx="17.3" ry="13.4"/>
<ellipse cx="1805.2" cy="1838.1" rx="18.0" ry="15.0"/>
<ellipse cx="1819.0" cy="1850.2" rx="17.0" ry="16.0"/>
<ellipse cx="1812.0" cy="1843.5" rx="15.0" ry="15.0"/>
<ellipse cx="1911.0" cy="1831.2" rx="16.9" ry="14.8"/>
<ellipse cx="1854.6" cy="1933.2" rx="17.8" ry="15.5"/>
<ellipse cx="1861.2" cy="2050.7" rx="17.3" ry="15.5"/>
<ellipse cx="1751.2" cy="2109.6" rx="17.0" ry="15.5"/>
<ellipse cx="1820.7" cy="2150.9" rx="17.5" ry="13.5"/>
<ellipse cx="1863.1" cy="2173.5" rx="17.9" ry="15.9"/>
<ellipse cx="1934.1" cy="2134.5" rx="16.7" ry="15.0"/>
<ellipse cx="1933.4" cy="2179.4" rx="16.1" ry="16.1"/>
<ellipse cx="1968.0" cy="2209.0" rx="16.5" ry="15.0"/>
<ellipse cx="1965.0" cy="2227.5" rx="16.5" ry="15.0"/>
<ellipse cx="2127.6" cy="2153.6" rx="16.0" ry="15.0"/>
<ellipse cx="2116.6" cy="2217.9" rx="19.0" ry="13.8"/>
<ellipse cx="2163.0" cy="2233.1" rx="18.0" ry="13.2"/>
<ellipse cx="1778.8" cy="2273.9" rx="18.0" ry="14.5"/>
<ellipse cx="1824.6" cy="2306.7" rx="16.0" ry="15.2"/>
<ellipse cx="1958.2" cy="2308.8" rx="15.8" ry="14.5"/>
<ellipse cx="1988.8" cy="2323.8" rx="15.8" ry="16.0"/>
<ellipse cx="1855.9" cy="2351.7" rx="15.9" ry="15.9"/>
<ellipse cx="1825.7" cy="2367.6" rx="17.0" ry="16.0"/>
<ellipse cx="1834.9" cy="2383.7" rx="17.0" ry="16.0"/>
<ellipse cx="1726.6" cy="2387.1" rx="17.0" ry="14.0"/>
<ellipse cx="1760.0" cy="2381.4" rx="16.0" ry="15.0"/>
<ellipse cx="1791.2" cy="2392.9" rx="17.0" ry="15.0"/>
<ellipse cx="1756.6" cy="2418.2" rx="16.0" ry="15.0"/>
<ellipse cx="1758.5" cy="2400.0" rx="11.0" ry="12.0"/>
<ellipse cx="1743.0" cy="2388.0" rx="9.0" ry="11.0"/>
<ellipse cx="1775.0" cy="2389.0" rx="9.0" ry="11.0"/>
<ellipse cx="1667.9" cy="2449.4" rx="17.3" ry="15.0"/>
<ellipse cx="1822.3" cy="2444.7" rx="16.0" ry="15.0"/>
<ellipse cx="1837.2" cy="2462.0" rx="17.0" ry="15.0"/>
<ellipse cx="1948.3" cy="2439.0" rx="16.0" ry="15.0"/>
<ellipse cx="1957.5" cy="2427.5" rx="15.0" ry="14.0"/>
<ellipse cx="1858.8" cy="2535.5" rx="16.5" ry="14.0"/>
<ellipse cx="1708.5" cy="2548.7" rx="17.0" ry="15.3"/>
<ellipse cx="1856.9" cy="2609.7" rx="16.8" ry="14.2"/>
</g>
<path d="M2175.5,2220.5 A12,13 0 0 1 2175.5,2246 Z" fill="#22ff22"/>
<text transform="translate(731.70,1313.30) scale(1.1447,1)" font-size="38.80" fill="#000">T220</text>
<text transform="translate(446.99,1393.00) scale(1.1427,1)" font-size="38.80" fill="#000">S237</text>
<text transform="translate(884.50,1372.30) scale(1.1462,1)" font-size="38.80" fill="#000">T245</text>
<text transform="translate(793.55,1451.30) scale(1.1074,1)" font-size="38.80" fill="#000">S241</text>
<text transform="translate(441.19,1477.50) scale(1.1423,1)" font-size="38.80" fill="#000">S214</text>
<text transform="translate(507.98,1535.90) scale(1.1484,1)" font-size="38.80" fill="#000">S210</text>
<text transform="translate(674.46,1573.30) scale(1.1564,1)" font-size="38.80" fill="#000">S238</text>
<text transform="translate(506.09,1609.90) scale(1.1645,1)" font-size="38.80" fill="#000">T217</text>
<text transform="translate(741.07,1608.70) scale(1.1723,1)" font-size="38.80" fill="#000">N255</text>
<text transform="translate(841.55,1640.00) scale(1.1790,1)" font-size="38.80" fill="#000">H263</text>
<text transform="translate(697.09,1670.30) scale(1.1540,1)" font-size="38.80" fill="#000">T212</text>
<text transform="translate(419.56,1677.00) scale(1.1556,1)" font-size="38.80" fill="#000">S235</text>
<text transform="translate(682.75,1718.70) scale(1.0926,1)" font-size="38.80" fill="#000">T231</text>
<text transform="translate(782.18,1766.30) scale(1.1674,1)" font-size="38.80" fill="#000">K240</text>
<text transform="translate(733.87,1813.80) scale(1.1722,1)" font-size="38.80" fill="#000">K257</text>
<text transform="translate(1001.21,1815.50) scale(1.1303,1)" font-size="38.80" fill="#000">V256</text>
<text transform="translate(450.36,1829.50) scale(1.1744,1)" font-size="38.80" fill="#000">D252</text>
<text transform="translate(625.37,1888.00) scale(1.1594,1)" font-size="38.80" fill="#000">Q244</text>
<text transform="translate(781.41,1895.20) scale(1.1357,1)" font-size="38.80" fill="#000">V228</text>
<text transform="translate(614.30,1954.20) scale(1.1623,1)" font-size="38.80" fill="#000">K234</text>
<text transform="translate(413.61,1978.20) scale(1.1596,1)" font-size="38.80" fill="#000">M250</text>
<text transform="translate(732.51,1987.40) scale(1.1188,1)" font-size="38.80" fill="#000">V248</text>
<text transform="translate(649.79,2026.30) scale(1.1664,1)" font-size="38.80" fill="#000">R242</text>
<text transform="translate(854.29,2023.40) scale(1.1667,1)" font-size="38.80" fill="#000">L243</text>
<text transform="translate(378.74,2048.50) scale(1.1820,1)" font-size="38.80" fill="#000">R209</text>
<text transform="translate(520.88,2053.60) scale(1.0744,1)" font-size="38.80" fill="#000">R211</text>
<text transform="translate(777.41,2068.30) scale(1.1201,1)" font-size="38.80" fill="#000">V226</text>
<text transform="translate(587.71,2105.50) scale(1.1268,1)" font-size="38.80" fill="#000">R221</text>
<text transform="translate(729.55,2115.60) scale(1.1777,1)" font-size="38.80" fill="#000">L253</text>
<text transform="translate(418.45,2161.70) scale(1.1792,1)" font-size="38.80" fill="#000">E222</text>
<text transform="translate(679.22,2273.60) scale(1.1877,1)" font-size="38.80" fill="#000">L215</text>
<text transform="translate(730.21,2324.40) scale(1.1308,1)" font-size="38.80" fill="#000">A239</text>
<text transform="translate(652.41,2372.80) scale(1.1387,1)" font-size="38.80" fill="#000">V229</text>
<text transform="translate(322.21,2401.50) scale(1.1583,1)" font-size="38.80" fill="#000">R230</text>
<text transform="translate(696.71,2534.60) scale(1.1279,1)" font-size="38.80" fill="#000">A246</text>
<text transform="translate(459.51,2621.70) scale(1.1412,1)" font-size="38.80" fill="#000">A227</text>
<text transform="translate(1847.07,1365.90) scale(0.9827,1)" font-size="39.00" fill="#2b2b2b">G273/304</text>
<text transform="translate(1683.41,1588.90) scale(1.0133,1)" font-size="39.00" fill="#2b2b2b">G292</text>
<text transform="translate(1786.12,1811.50) scale(1.0049,1)" font-size="39.00" fill="#2b2b2b">S285</text>
<text transform="translate(1704.03,1882.40) scale(0.9942,1)" font-size="39.00" fill="#2b2b2b">T263</text>
<text transform="translate(1937.52,1844.00) scale(1.0023,1)" font-size="39.00" fill="#2b2b2b">S293</text>
<text transform="translate(1890.53,1944.30) scale(0.9993,1)" font-size="39.00" fill="#2b2b2b">S289</text>
<text transform="translate(1889.01,2048.00) scale(1.0292,1)" font-size="39.00" fill="#2b2b2b">N296</text>
<text transform="translate(1633.69,2105.00) scale(1.0034,1)" font-size="39.00" fill="#2b2b2b">N265</text>
<text transform="translate(1937.82,2123.00) scale(0.9927,1)" font-size="39.00" fill="#2b2b2b">H268/299</text>
<text transform="translate(2146.33,2143.30) scale(0.9725,1)" font-size="39.00" fill="#2b2b2b">V287</text>
<text transform="translate(1709.20,2176.50) scale(0.9614,1)" font-size="39.00" fill="#2b2b2b">C291</text>
<text transform="translate(1953.31,2176.50) scale(0.9978,1)" font-size="39.00" fill="#2b2b2b">D295</text>
<text transform="translate(2126.80,2207.10) scale(0.9994,1)" font-size="39.00" fill="#2b2b2b">I297</text>
<text transform="translate(1985.53,2214.70) scale(0.9915,1)" font-size="39.00" fill="#2b2b2b">K274</text>
<text transform="translate(1815.19,2230.10) scale(1.0020,1)" font-size="39.00" fill="#2b2b2b">N286</text>
<text transform="translate(1682.44,2253.20) scale(1.0179,1)" font-size="39.00" fill="#2b2b2b">D283</text>
<text transform="translate(1985.52,2252.00) scale(0.9928,1)" font-size="39.00" fill="#2b2b2b">K267</text>
<text transform="translate(2127.55,2291.20) scale(0.9855,1)" font-size="39.00" fill="#2b2b2b">S305</text>
<text transform="translate(1978.14,2291.70) scale(0.9600,1)" font-size="39.00" fill="#2b2b2b">V275</text>
<text transform="translate(1839.99,2299.30) scale(0.9723,1)" font-size="39.00" fill="#2b2b2b">K281</text>
<text transform="translate(2011.90,2358.30) scale(0.9994,1)" font-size="39.00" fill="#2b2b2b">L266</text>
<text transform="translate(1862.57,2360.60) scale(0.9901,1)" font-size="39.00" fill="#2b2b2b">Q269</text>
<text transform="translate(1702.69,2365.70) scale(1.0041,1)" font-size="39.00" fill="#2b2b2b">E264</text>
<text transform="translate(1616.31,2409.50) scale(0.9961,1)" font-size="39.00" fill="#2b2b2b">K294</text>
<text transform="translate(1808.21,2421.70) scale(0.9981,1)" font-size="39.00" fill="#2b2b2b">K280</text>
<text transform="translate(1974.55,2450.50) scale(1.0159,1)" font-size="39.00" fill="#2b2b2b">L282</text>
<text transform="translate(1847.87,2455.60) scale(0.9792,1)" font-size="39.00" fill="#2b2b2b">L284</text>
<text transform="translate(1550.19,2470.80) scale(1.0024,1)" font-size="39.00" fill="#2b2b2b">N279</text>
<text transform="translate(1702.85,2470.80) scale(1.0037,1)" font-size="39.00" fill="#2b2b2b">Q288</text>
<text transform="translate(1808.40,2508.50) scale(0.9994,1)" font-size="39.00" fill="#2b2b2b">I277</text>
<text transform="translate(1889.89,2541.80) scale(1.0048,1)" font-size="39.00" fill="#2b2b2b">K298</text>
<text transform="translate(1635.05,2600.30) scale(1.0028,1)" font-size="39.00" fill="#2b2b2b">Q276</text>
<text transform="translate(1890.16,2615.90) scale(1.0112,1)" font-size="39.00" fill="#2b2b2b">I278</text>
</svg>
</body></html>
